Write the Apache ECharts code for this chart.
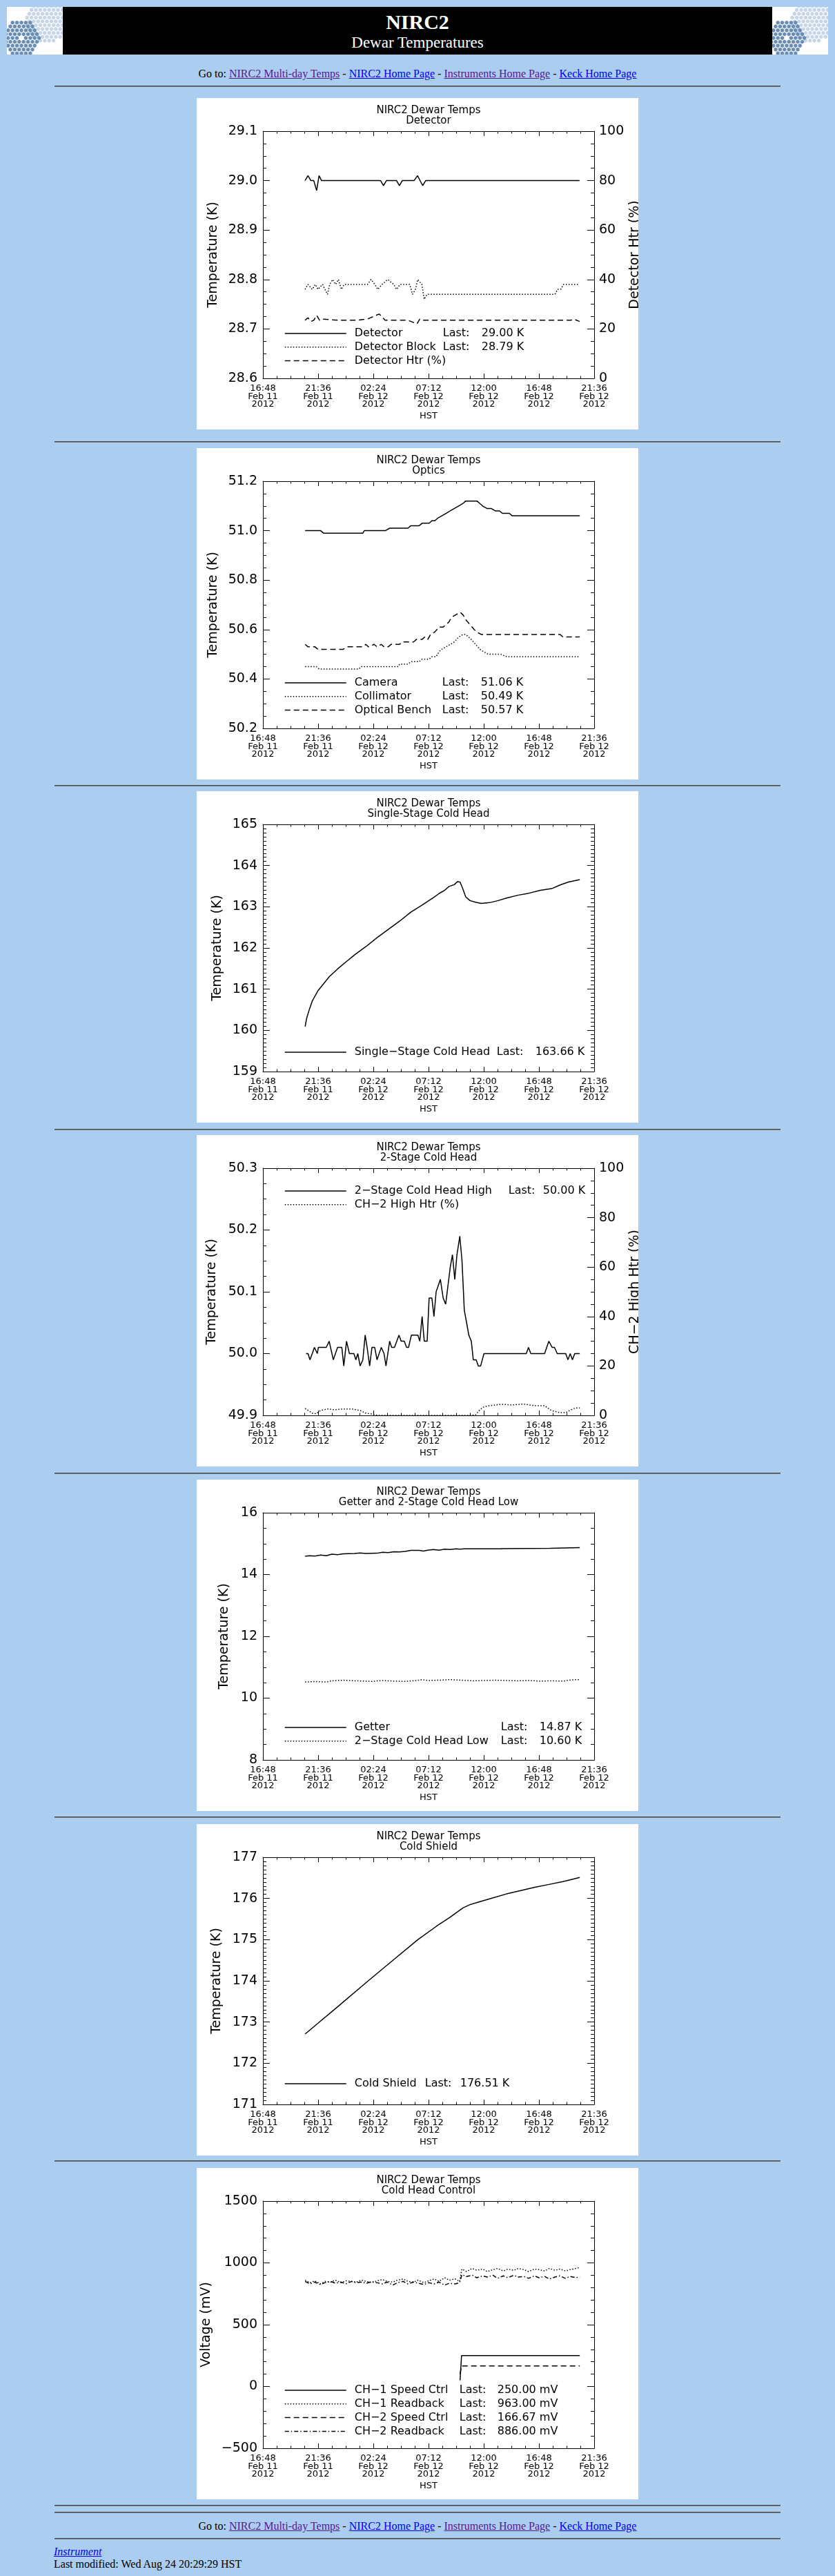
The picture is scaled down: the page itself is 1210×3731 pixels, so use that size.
<!DOCTYPE html>
<html><head><meta charset="utf-8">
<script src="https://cdn.jsdelivr.net/npm/echarts@6.0.0/dist/echarts.min.js"></script>
<style>
html,body{margin:0;padding:0;}
body{background:#abcdef;width:1210px;height:3731px;position:relative;overflow:hidden;font-family:'Liberation Serif','Times New Roman',serif;color:#000;}
.abs{position:absolute;}
.hr{position:absolute;left:79px;width:1052px;height:1px;border-top:1px solid #4a4a4a;background:#7a7a7a;}
.panel{position:absolute;left:285px;width:640px;height:480px;background:#fff;}
.nav{position:absolute;left:0;width:1210px;text-align:center;font-size:16px;line-height:18px;white-space:nowrap;}
a{text-decoration:underline;}
a.v{color:#551a8b;} a.u{color:#0000ee;}
</style></head>
<body>
<svg id="logoL" class="abs" style="left:10px;top:10px" width="81" height="69"></svg>
<div class="abs" style="left:91px;top:10px;width:1028px;height:69px;background:#000;"></div>
<svg id="logoR" class="abs" style="left:1119px;top:10px" width="81" height="69"></svg>
<div class="abs" style="left:0;top:17px;width:1210px;text-align:center;color:#fff;font-weight:bold;font-size:30px;line-height:30px;">NIRC2</div>
<div class="abs" style="left:0;top:50px;width:1210px;text-align:center;color:#fff;font-size:23px;line-height:23px;">Dewar Temperatures</div>
<div class="nav" style="top:98px;">Go to: <a class="v" href="#">NIRC2 Multi-day Temps</a> - <a class="u" href="#">NIRC2 Home Page</a> - <a class="v" href="#">Instruments Home Page</a> - <a class="u" href="#">Keck Home Page</a></div>
<div class="hr" style="top:124px;"></div>

<div class="panel" id="c1" style="top:142px;"></div>
<div class="hr" style="top:639px;"></div>
<div class="panel" id="c2" style="top:649px;"></div>
<div class="hr" style="top:1137px;"></div>
<div class="panel" id="c3" style="top:1146px;"></div>
<div class="hr" style="top:1635px;"></div>
<div class="panel" id="c4" style="top:1644px;"></div>
<div class="hr" style="top:2133px;"></div>
<div class="panel" id="c5" style="top:2143px;"></div>
<div class="hr" style="top:2631px;"></div>
<div class="panel" id="c6" style="top:2642px;"></div>
<div class="hr" style="top:3129px;"></div>
<div class="panel" id="c7" style="top:3140px;"></div>
<div class="hr" style="top:3628px;"></div>
<div class="hr" style="top:3638px;"></div>
<div class="nav" style="top:3650px;">Go to: <a class="v" href="#">NIRC2 Multi-day Temps</a> - <a class="u" href="#">NIRC2 Home Page</a> - <a class="v" href="#">Instruments Home Page</a> - <a class="u" href="#">Keck Home Page</a></div>
<div class="hr" style="top:3676px;"></div>
<div class="abs" style="left:78px;top:3687px;font-size:16px;line-height:18px;font-style:italic;"><a class="u" href="#">Instrument</a></div>
<div class="abs" style="left:78px;top:3705px;font-size:16px;line-height:18px;white-space:nowrap;">Last modified: Wed Aug 24 20:29:29 HST</div>

<script>
// ---------- tick labels (x axis: hours since 16:48 HST Feb 11 2012) ----------
const tickTimes = ['16:48','21:36','02:24','07:12','12:00','16:48','21:36'];
const tickDates = ['Feb 11','Feb 11','Feb 12','Feb 12','Feb 12','Feb 12','Feb 12'];
const tickYears = ['2012','2012','2012','2012','2012','2012','2012'];

// ---------- Chart 1: Detector ----------
const detTime = [3.66,3.92,4.17,4.42,4.67,4.88,5.10,10.23,10.48,10.74,11.62,11.87,12.12,13.14,13.44,13.89,14.15,27.53];
const detTemp = [29.00,29.01,29.00,29.00,28.98,29.01,29.00,29.00,28.99,29.00,29.00,28.99,29.00,29.00,29.01,28.99,29.00,29.00];
const blkTime = [3.66,3.92,4.29,4.55,4.80,5.18,5.61,5.81,6.06,6.32,6.57,6.82,7.07,9.09,9.40,9.73,9.98,10.36,10.86,11.37,11.62,11.92,12.76,13.01,13.26,13.46,13.82,14.02,14.27,25.39,25.64,25.89,26.14,27.53];
const blkTemp = [28.78,28.79,28.78,28.79,28.78,28.79,28.77,28.79,28.80,28.79,28.80,28.78,28.79,28.79,28.80,28.79,28.78,28.79,28.80,28.79,28.78,28.79,28.79,28.77,28.78,28.80,28.79,28.76,28.77,28.77,28.78,28.78,28.79,28.79];
const htrTime = [3.66,3.92,4.17,4.42,4.67,4.93,5.18,6.57,8.08,9.09,9.60,10.10,10.36,10.61,11.62,12.63,13.14,13.39,13.64,13.89,26.78,27.03,27.53];
const htrPct  = [23.5,24.5,23,23.5,25.5,23.5,24,23.5,23.5,24,25,26,25,23.5,23.5,23.5,22.5,22,24,23.5,23.5,24,23];
const detLast = ['29.00 K','28.79 K'];

// ---------- Chart 2: Optics ----------
const camTime = [3.67,5.02,5.27,8.69,8.82,10.65,11.02,12.61,12.86,13.59,13.84,14.45,14.69,14.94,15.18,15.55,15.92,16.29,16.65,17.02,17.39,17.63,18.61,18.86,19.10,19.47,19.84,20.20,20.57,20.82,21.43,21.67,27.55];
const camTemp = [51.00,51.00,50.99,50.99,51.00,51.00,51.01,51.01,51.02,51.02,51.03,51.03,51.04,51.04,51.05,51.06,51.07,51.08,51.09,51.10,51.11,51.12,51.12,51.11,51.10,51.09,51.09,51.08,51.08,51.07,51.07,51.06,51.06];
const colTime = [3.67,4.65,4.90,8.33,8.57,11.76,11.88,12.61,12.86,13.59,13.84,14.45,14.69,15.06,15.31,15.55,15.92,16.29,16.65,17.02,17.39,17.63,17.88,18.12,18.49,18.86,19.22,19.59,20.69,21.18,27.55];
const colTemp = [50.45,50.45,50.44,50.44,50.45,50.45,50.46,50.46,50.47,50.47,50.48,50.48,50.49,50.49,50.51,50.52,50.53,50.54,50.55,50.57,50.58,50.58,50.57,50.56,50.54,50.52,50.51,50.50,50.50,50.49,50.49];
const benchTime = [3.67,3.92,4.53,4.78,6.98,7.35,8.69,8.94,9.18,9.67,9.92,10.29,10.53,10.90,11.14,11.88,12.12,13.10,13.35,13.84,14.08,14.33,14.57,14.94,15.31,15.67,15.92,16.16,16.41,16.78,17.14,17.39,17.63,18.00,18.37,18.61,18.98,25.84,26.08,27.55];
const benchTemp = [50.54,50.53,50.53,50.52,50.52,50.53,50.53,50.54,50.53,50.54,50.53,50.54,50.53,50.53,50.54,50.54,50.55,50.55,50.56,50.56,50.57,50.56,50.58,50.59,50.61,50.61,50.62,50.63,50.65,50.66,50.67,50.66,50.64,50.62,50.60,50.59,50.58,50.58,50.57,50.57];
const opticsLast = ['51.06 K','50.49 K','50.57 K'];

// ---------- Chart 3: Single-Stage Cold Head ----------
const sshTime = [3.67,3.80,4.04,4.29,4.78,5.27,5.76,6.49,7.22,7.96,8.94,9.92,10.90,11.88,12.86,13.84,14.82,15.31,15.80,16.16,16.65,16.90,17.14,17.39,17.63,18.00,18.49,18.98,19.71,20.45,21.18,22.16,23.14,24.12,25.10,25.84,26.57,27.55];
const sshTemp = [160.09,160.29,160.51,160.71,160.96,161.13,161.30,161.49,161.66,161.83,162.03,162.25,162.45,162.65,162.87,163.04,163.22,163.32,163.40,163.49,163.54,163.61,163.60,163.43,163.24,163.15,163.11,163.08,163.10,163.15,163.21,163.28,163.33,163.40,163.44,163.53,163.60,163.66];
const sshLast = ['163.66 K'];

// ---------- Chart 4: 2-Stage Cold Head ----------
const ch2hTime = [3.75,3.92,4.09,4.29,4.48,4.73,4.82,5.51,5.76,6.12,6.49,6.86,7.03,7.27,7.52,7.91,8.08,8.25,8.45,8.69,8.89,9.06,9.28,9.48,9.72,9.92,10.29,10.53,10.70,11.02,11.19,11.44,11.83,12.02,12.29,12.49,12.66,12.91,13.47,13.64,13.84,14.03,14.28,14.45,14.69,14.87,15.06,15.43,15.67,15.89,16.29,16.48,16.68,16.87,17.12,17.31,17.51,17.71,17.90,18.12,18.29,18.54,18.73,18.93,19.22,22.90,23.09,23.29,24.49,24.86,25.15,25.35,25.59,26.33,26.52,26.72,26.91,27.11,27.55];
const ch2hTemp = [50.00,50.00,49.99,50.00,50.01,50.00,50.01,50.01,50.02,49.99,50.01,50.01,49.98,50.02,50.00,50.00,49.99,50.00,49.98,49.99,50.03,50.01,49.98,50.01,50.01,49.99,50.01,50.00,49.98,50.02,50.01,50.01,50.03,50.02,50.02,50.01,50.01,50.03,50.03,50.02,50.06,50.02,50.02,50.09,50.09,50.06,50.10,50.12,50.09,50.08,50.14,50.16,50.12,50.16,50.19,50.15,50.07,50.05,50.03,50.02,49.99,49.99,49.98,49.98,50.00,50.00,50.01,50.00,50.00,50.02,50.01,50.01,50.00,50.00,49.99,50.00,49.99,50.00,50.00];
const ch2HtrTime = [3.67,3.92,4.29,4.65,5.02,5.63,6.24,6.98,7.71,8.45,8.94,9.55,9.92,17.76,18.49,18.86,19.22,19.71,20.69,21.67,22.65,23.63,24.49,25.10,25.84,26.33,26.69,27.18,27.55];
const ch2HtrPct  = [2.8,2.0,0.9,0.7,2.0,2.6,2.3,2.6,2.6,2.0,0.9,0.5,0,0,0.2,2.3,3.5,3.9,4.5,4.2,4.6,3.9,3.9,1.9,1.1,1.1,2.0,3.0,3.0];
const ch2hLast = ['50.00 K'];

// ---------- Chart 5: Getter and 2-Stage Cold Head Low ----------
const getTime = [3.67,4.04,4.53,5.02,5.51,6.00,6.49,6.98,7.96,8.45,8.94,9.92,10.41,10.90,11.39,11.88,12.37,12.86,13.59,13.96,14.33,14.82,15.31,15.80,16.29,16.78,17.14,17.51,20.69,20.82,24.98,25.10,27.55];
const getTemp = [14.59,14.61,14.60,14.63,14.61,14.66,14.64,14.67,14.68,14.70,14.68,14.69,14.72,14.71,14.74,14.73,14.75,14.78,14.78,14.76,14.79,14.81,14.79,14.82,14.81,14.83,14.82,14.83,14.83,14.84,14.85,14.87,14.87];
const ch2lTime = [3.67,4.53,5.51,6.00,6.98,7.96,8.94,9.43,10.41,11.39,12.37,13.35,13.84,14.33,15.31,16.29,17.27,18.25,19.22,20.20,21.18,22.16,23.14,24.12,25.10,26.08,26.82,27.55];
const ch2lTemp = [10.52,10.54,10.52,10.56,10.58,10.56,10.55,10.54,10.57,10.55,10.54,10.57,10.60,10.57,10.58,10.60,10.58,10.56,10.57,10.58,10.57,10.56,10.57,10.55,10.56,10.55,10.59,10.60];
const getterLast = ['14.87 K','10.60 K'];

// ---------- Chart 6: Cold Shield ----------
const shTime = [3.67,4.78,6.49,8.94,11.39,13.47,15.06,16.29,17.39,18.00,18.73,19.96,21.18,22.41,23.63,24.86,26.08,27.55];
const shTemp = [172.71,172.97,173.37,173.95,174.52,175.00,175.32,175.55,175.77,175.85,175.91,176.01,176.11,176.19,176.27,176.34,176.41,176.51];
const shLast = ['176.51 K'];

// ---------- Chart 7: Cold Head Control ----------
const spdTime = [17.14,17.27,27.55];
const spd1mV = [50,250,250];
const spd2mV = [100,166.67,166.67];
const rbTime = [3.67,4.1,4.5,5.0,5.4,5.9,6.3,6.8,7.2,7.7,8.1,8.6,9.0,9.5,9.9,10.4,10.8,11.3,11.7,12.2,12.6,13.1,13.5,14.0,14.4,14.9,15.3,15.8,16.2,16.7,17.1,17.3,17.7,18.2,18.6,19.1,19.5,20.0,20.4,20.9,21.3,21.8,22.2,22.7,23.1,23.6,24.0,24.5,24.9,25.4,25.8,26.3,26.7,27.2,27.55];
const rb1mV = [860,840,855,830,850,845,860,840,855,850,845,860,850,840,855,865,850,845,860,870,850,845,860,840,855,870,850,880,860,870,850,950,930,955,940,950,930,945,955,935,950,940,955,945,930,950,945,935,955,940,950,935,945,955,963];
const rb2mV = [850,830,845,825,840,850,835,845,830,850,840,845,835,850,840,830,845,820,840,850,830,845,835,825,840,830,845,820,835,830,840,905,890,900,880,895,885,900,875,895,880,900,885,890,875,895,880,890,870,885,895,875,890,880,886];
const ctrlLast = ['250.00 mV','963.00 mV','166.67 mV','886.00 mV'];

// ---------- helpers ----------
const FONT = 'DejaVu Sans';
const DASH = {solid:'solid', dotted:[1.5,2.5], dashed:[8,5], dashdot:[6,3,1.5,3]};
function pairs(t, v){ return t.map((x,i)=>[x, v[i]]); }

function xAxes(){
  const base = {type:'value', min:0, max:28.8, interval:4.8,
    axisLine:{show:true,onZero:false,lineStyle:{color:'#000',width:1}},
    axisTick:{show:true,inside:true,length:7,lineStyle:{color:'#000',width:1}},
    minorTick:{show:true,splitNumber:4,length:3.5,lineStyle:{color:'#000',width:1}},
    splitLine:{show:false}, minorSplitLine:{show:false}};
  return [
    Object.assign({}, base, {position:'bottom',
      axisLabel:{show:true,margin:9,fontFamily:FONT,fontSize:13,lineHeight:11.5,color:'#000',
        formatter:v=>{const i=Math.round(v/4.8); return tickTimes[i]+'\n'+tickDates[i]+'\n'+tickYears[i];}},
      name:'HST', nameLocation:'middle', nameGap:48, nameMoveOverlap:false,
      nameTextStyle:{fontFamily:FONT,fontSize:13,color:'#000'}}),
    Object.assign({}, base, {position:'top', axisLabel:{show:false}})
  ];
}
function yAxis(o, pos, show){
  return {type:'value', position:pos, min:o.min, max:o.max, interval:o.int,
    axisLine:{show:true,onZero:false,lineStyle:{color:'#000',width:1}},
    axisTick:{show:true,inside:true,length:10,lineStyle:{color:'#000',width:1}},
    minorTick:{show:true,splitNumber:o.minor,length:5,lineStyle:{color:'#000',width:1}},
    splitLine:{show:false}, minorSplitLine:{show:false},
    axisLabel:{show:show,margin:pos==='left'?8:7,fontFamily:FONT,fontSize:19,color:'#000',formatter:o.fmt},
    name: show ? o.name : '', nameLocation:'middle', nameGap:o.gap, nameRotate:90, nameMoveOverlap:false,
    nameTextStyle:{fontFamily:FONT,fontSize:19,color:'#000'}};
}
function line(name, t, v, style, yi){
  return {type:'line', name:name, data:pairs(t,v), xAxisIndex:0, yAxisIndex:yi||0,
    symbol:'none', showSymbol:false, silent:true, animation:false, clip:true,
    itemStyle:{color:'#000'}, lineStyle:{color:'#000', width:1.5, type:DASH[style]}};
}
function build(id, cfg){
  const chart = echarts.init(document.getElementById(id), null, {renderer:'canvas', width:640, height:480});
  const yAxes = [yAxis(cfg.y, 'left', true), cfg.y2 ? yAxis(cfg.y2, 'right', true) : yAxis(cfg.y, 'right', false)];
  const lg = cfg.legend;
  const rich = {
    s:{width:7, lineHeight:14},
    n:{width:lg.w1, fontFamily:FONT, fontSize:16, color:'#000', lineHeight:14},
    l:{width:lg.w2, fontFamily:FONT, fontSize:16, color:'#000', lineHeight:14},
    v:{fontFamily:FONT, fontSize:16, color:'#000', lineHeight:14}
  };
  chart.setOption({
    animation:false,
    backgroundColor:'#fff',
    title:{text:'NIRC2 Dewar Temps\n'+cfg.sub, left:336, top:10.5, textAlign:'center', padding:0,
      textStyle:{fontFamily:FONT, fontSize:15, fontWeight:'normal', lineHeight:15, color:'#000'}},
    grid:{left:96, top:48, width:480, height:358, containLabel:false, outerBoundsMode:'none'},
    xAxis:xAxes(),
    yAxis:yAxes,
    legend:{orient:'vertical', left:127, top:lg.top, padding:0, itemWidth:89, itemHeight:14, itemGap:3.8,
      selectedMode:false,
      itemStyle:{color:'rgba(0,0,0,0)', borderColor:'rgba(0,0,0,0)', borderWidth:0, opacity:0},
      lineStyle:{width:1.5},
      textStyle:{fontFamily:FONT, fontSize:16, color:'#000', lineHeight:14, rich:rich},
      formatter:name=>{
        const it = lg.items[name];
        if (it.last == null) return '{s|}{v|'+it.label+'}';
        return '{s|}{n|'+it.label+'}{l|Last:}{v|'+it.last+'}';
      }},
    series:cfg.series
  });
}

// ---------- charts ----------
build('c1', {
  sub:'Detector',
  y:{min:28.6,max:29.1,int:0.1,minor:4,fmt:v=>v.toFixed(1),name:'Temperature (K)',gap:62},
  y2:{min:0,max:100,int:20,minor:4,fmt:v=>String(Math.round(v)),name:'Detector Htr (%)',gap:50},
  legend:{top:333, w1:128, w2:56, items:{
    'Detector':{label:'Detector', last:detLast[0]},
    'Detector Block':{label:'Detector Block', last:detLast[1]},
    'Detector Htr (%)':{label:'Detector Htr (%)', last:null}}},
  series:[line('Detector',detTime,detTemp,'solid'), line('Detector Block',blkTime,blkTemp,'dotted'), line('Detector Htr (%)',htrTime,htrPct,'dashed',1)]
});
build('c2', {
  sub:'Optics',
  y:{min:50.2,max:51.2,int:0.2,minor:4,fmt:v=>v.toFixed(1),name:'Temperature (K)',gap:62},
  legend:{top:332, w1:127, w2:56, items:{
    'Camera':{label:'Camera', last:opticsLast[0]},
    'Collimator':{label:'Collimator', last:opticsLast[1]},
    'Optical Bench':{label:'Optical Bench', last:opticsLast[2]}}},
  series:[line('Camera',camTime,camTemp,'solid'), line('Collimator',colTime,colTemp,'dotted'), line('Optical Bench',benchTime,benchTemp,'dashed')]
});
build('c3', {
  sub:'Single-Stage Cold Head',
  y:{min:159,max:165,int:1,minor:10,fmt:v=>String(Math.round(v)),name:'Temperature (K)',gap:56},
  legend:{top:370, w1:206, w2:56, items:{
    'Single-Stage Cold Head':{label:'Single\u2212Stage Cold Head', last:sshLast[0]}}},
  series:[line('Single-Stage Cold Head',sshTime,sshTemp,'solid')]
});
build('c4', {
  sub:'2-Stage Cold Head',
  y:{min:49.9,max:50.3,int:0.1,minor:4,fmt:v=>v.toFixed(1),name:'Temperature (K)',gap:64},
  y2:{min:0,max:100,int:20,minor:4,fmt:v=>String(Math.round(v)),name:'CH\u22122 High Htr (%)',gap:50},
  legend:{top:73, w1:223, w2:50, items:{
    '2-Stage Cold Head High':{label:'2\u2212Stage Cold Head High', last:ch2hLast[0]},
    'CH-2 High Htr (%)':{label:'CH\u22122 High Htr (%)', last:null}}},
  series:[line('2-Stage Cold Head High',ch2hTime,ch2hTemp,'solid'), line('CH-2 High Htr (%)',ch2HtrTime,ch2HtrPct,'dotted',1)]
});
build('c5', {
  sub:'Getter and 2-Stage Cold Head Low',
  y:{min:8,max:16,int:2,minor:4,fmt:v=>String(Math.round(v)),name:'Temperature (K)',gap:46},
  legend:{top:351, w1:212, w2:56, items:{
    'Getter':{label:'Getter', last:getterLast[0]},
    '2-Stage Cold Head Low':{label:'2\u2212Stage Cold Head Low', last:getterLast[1]}}},
  series:[line('Getter',getTime,getTemp,'solid'), line('2-Stage Cold Head Low',ch2lTime,ch2lTemp,'dotted')]
});
build('c6', {
  sub:'Cold Shield',
  y:{min:171,max:177,int:1,minor:10,fmt:v=>String(Math.round(v)),name:'Temperature (K)',gap:57},
  legend:{top:368, w1:102, w2:51, items:{
    'Cold Shield':{label:'Cold Shield', last:shLast[0]}}},
  series:[line('Cold Shield',shTime,shTemp,'solid')]
});
build('c7', {
  sub:'Cold Head Control',
  y:{min:-500,max:1500,int:500,minor:5,fmt:v=>String(Math.round(v)).replace('-','\u2212'),name:'Voltage (mV)',gap:72},
  legend:{top:314, w1:152, w2:55, items:{
    'CH-1 Speed Ctrl':{label:'CH\u22121 Speed Ctrl', last:ctrlLast[0]},
    'CH-1 Readback':{label:'CH\u22121 Readback', last:ctrlLast[1]},
    'CH-2 Speed Ctrl':{label:'CH\u22122 Speed Ctrl', last:ctrlLast[2]},
    'CH-2 Readback':{label:'CH\u22122 Readback', last:ctrlLast[3]}}},
  series:[line('CH-1 Speed Ctrl',spdTime,spd1mV,'solid'), line('CH-1 Readback',rbTime,rb1mV,'dotted'),
          line('CH-2 Speed Ctrl',spdTime,spd2mV,'dashed'), line('CH-2 Readback',rbTime,rb2mV,'dashdot')]
});

// ---------- decorative logos (Keck mirror segments) ----------
function drawLogo(id){
  const svg = document.getElementById(id);
  let s = '<rect width="81" height="69" fill="#fff"/>';
  const r = 3.7, dx = r*Math.sqrt(3), dy = r*1.5, rr = r*0.82;
  const clusters = [{cx:58,cy:21,R:30,c:'#c7d5e6',hole:0},{cx:21,cy:45,R:27,c:'#6a8db6',hole:4}];
  for (const cl of clusters){
    for (let row=-12; row<=12; row++){
      for (let col=-12; col<=12; col++){
        const x = cl.cx + (col + (row&1)*0.5)*dx, y = cl.cy + row*dy;
        const d = Math.hypot(x-cl.cx, y-cl.cy);
        if (d > cl.R || d < cl.hole) continue;
        let p = [];
        for (let k=0;k<6;k++){ const a=(-90+60*k)*Math.PI/180; p.push((x+rr*Math.cos(a)).toFixed(2)+','+(y+rr*Math.sin(a)).toFixed(2)); }
        s += '<polygon points="'+p.join(' ')+'" fill="'+cl.c+'"/>';
      }
    }
  }
  svg.innerHTML = s;
}
drawLogo('logoL'); drawLogo('logoR');
</script>
</body></html>
